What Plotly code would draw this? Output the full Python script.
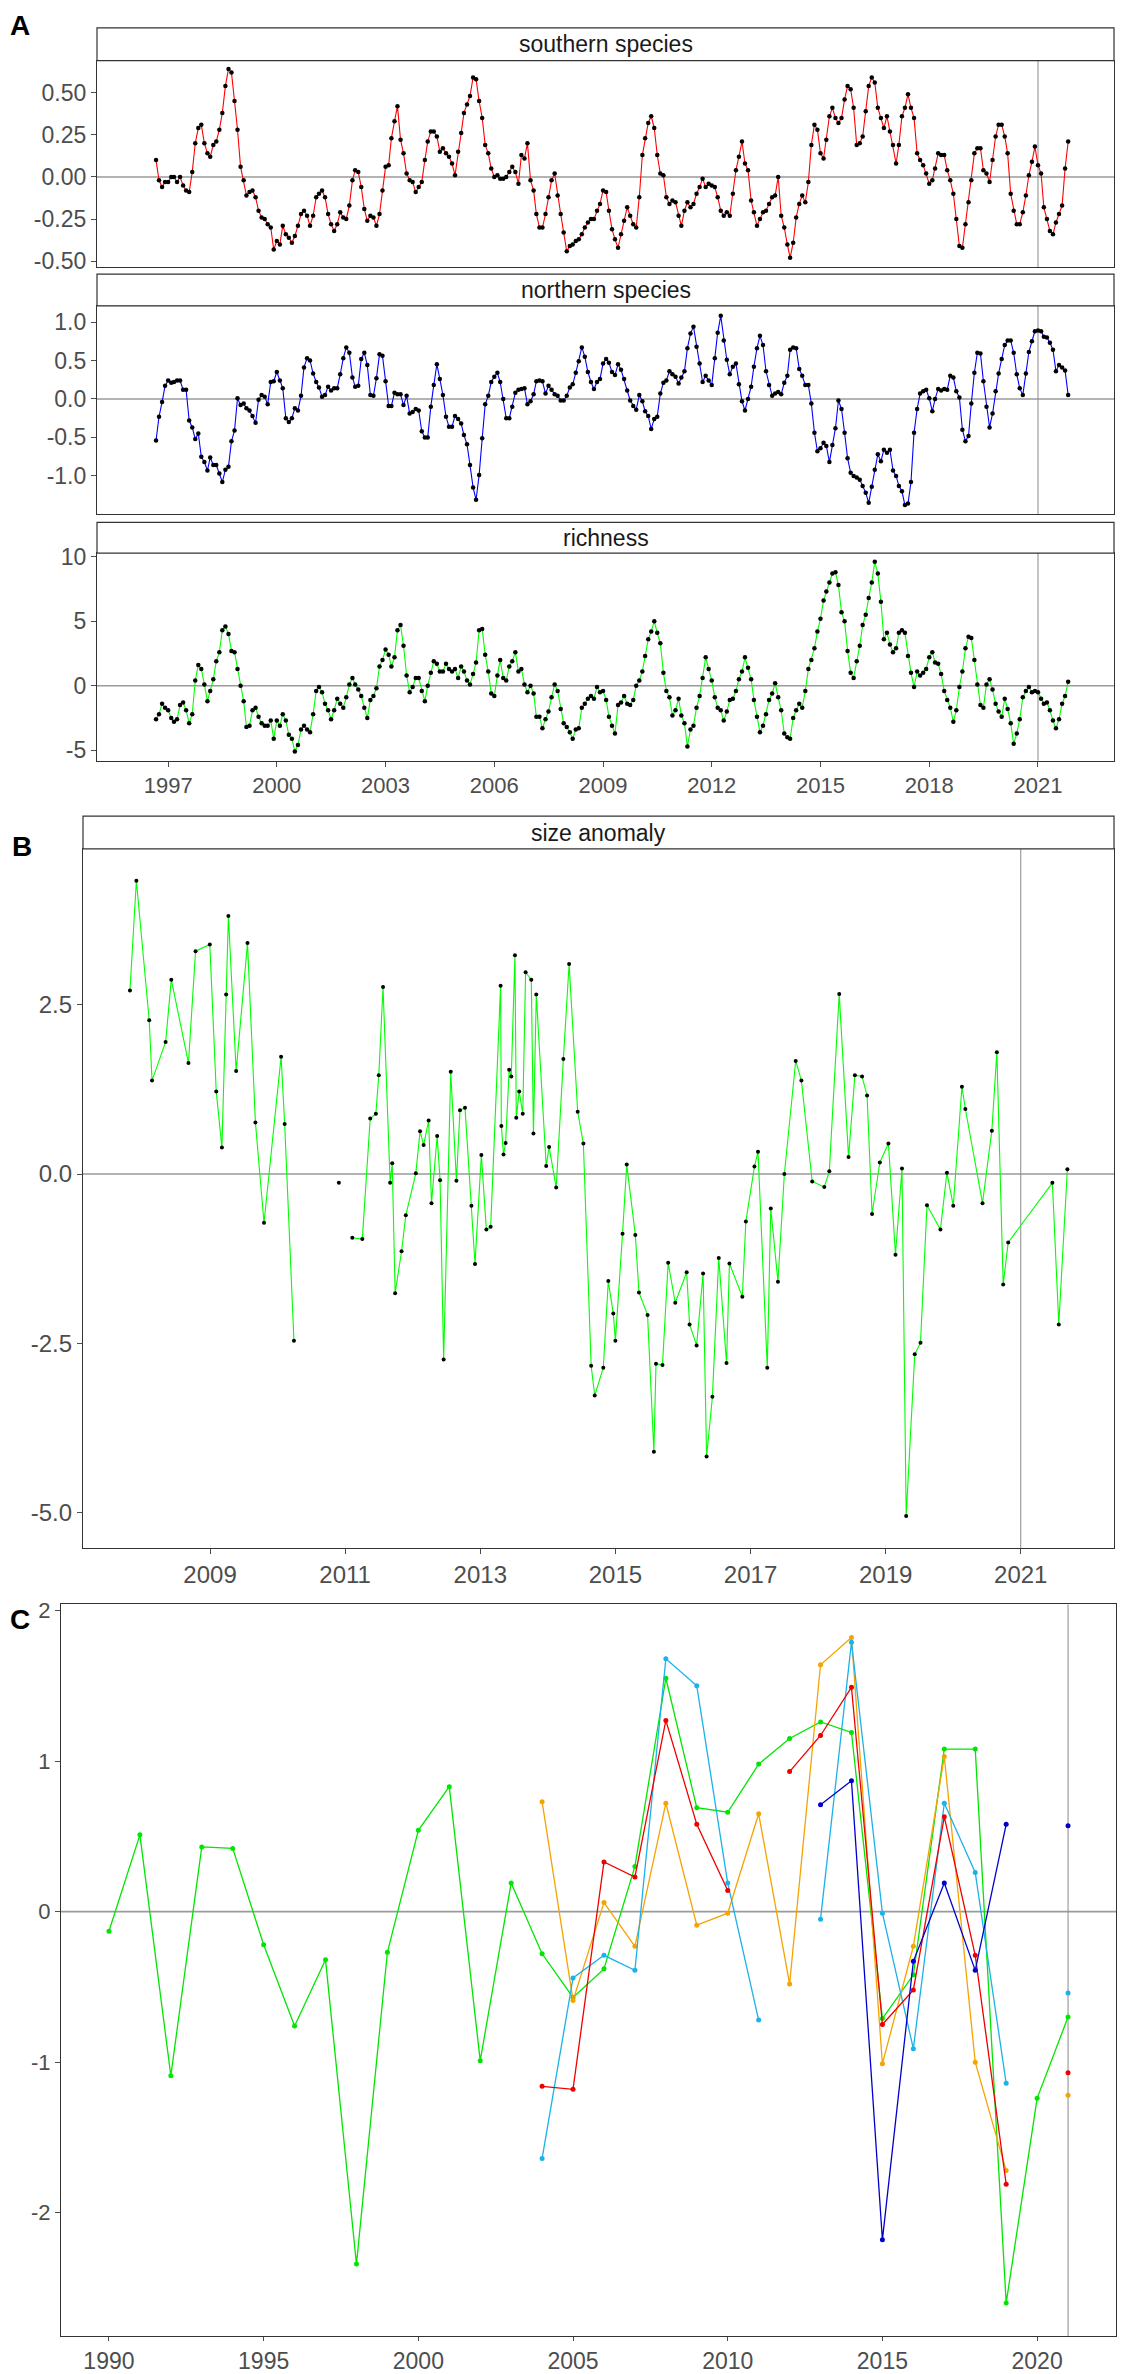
import numpy as np
import pandas as pd
import plotly.graph_objects as go

W, H = 1121, 2374

# ---------------- panel A: monthly series, Sep 1996 .. Nov 2021
month_start = "1996-09-01"
southern = [
    0.10, -0.02, -0.06, -0.03,
    -0.03, 0.00, 0.00, -0.03, 0.00, -0.05, -0.08, -0.09, 0.03, 0.20, 0.29, 0.31,
    0.20, 0.14, 0.12, 0.19, 0.21, 0.28, 0.38, 0.54, 0.64, 0.62, 0.45, 0.28,
    0.06, -0.02, -0.11, -0.09, -0.08, -0.12, -0.20, -0.24, -0.25, -0.28, -0.30, -0.43,
    -0.38, -0.40, -0.29, -0.34, -0.36, -0.39, -0.35, -0.29, -0.22, -0.20, -0.23, -0.29,
    -0.23, -0.12, -0.10, -0.08, -0.12, -0.22, -0.28, -0.32, -0.28, -0.21, -0.24, -0.25,
    -0.17, -0.02, 0.04, 0.03, -0.06, -0.19, -0.26, -0.23, -0.24, -0.29, -0.22, -0.08,
    0.06, 0.07, 0.23, 0.33, 0.42, 0.22, 0.14, 0.02, -0.02, -0.03, -0.09, -0.06,
    -0.03, 0.10, 0.21, 0.27, 0.27, 0.24, 0.15, 0.17, 0.14, 0.12, 0.08, 0.01,
    0.15, 0.26, 0.38, 0.43, 0.48, 0.59, 0.58, 0.45, 0.35, 0.19, 0.14, 0.05,
    0.00, 0.01, -0.01, -0.01, 0.00, 0.03, 0.06, 0.03, -0.04, 0.13, 0.11, 0.20,
    -0.02, -0.08, -0.22, -0.30, -0.30, -0.22, -0.12, -0.02, 0.02, -0.11, -0.22, -0.33,
    -0.44, -0.41, -0.40, -0.38, -0.37, -0.34, -0.30, -0.27, -0.25, -0.25, -0.20, -0.16,
    -0.08, -0.09, -0.20, -0.31, -0.37, -0.42, -0.34, -0.26, -0.18, -0.23, -0.28, -0.30,
    -0.12, 0.13, 0.23, 0.32, 0.36, 0.29, 0.13, 0.02, 0.01, -0.12, -0.16, -0.14,
    -0.15, -0.23, -0.29, -0.20, -0.15, -0.18, -0.16, -0.10, -0.06, -0.01, -0.06, -0.04,
    -0.05, -0.06, -0.12, -0.20, -0.23, -0.21, -0.23, -0.10, 0.04, 0.12, 0.21, 0.08,
    0.04, -0.14, -0.21, -0.29, -0.25, -0.21, -0.20, -0.16, -0.12, -0.11, 0.00, -0.23,
    -0.30, -0.40, -0.48, -0.39, -0.24, -0.16, -0.11, -0.15, -0.03, 0.19, 0.31, 0.28,
    0.14, 0.11, 0.22, 0.36, 0.41, 0.35, 0.32, 0.35, 0.46, 0.54, 0.52, 0.41,
    0.19, 0.20, 0.24, 0.39, 0.54, 0.59, 0.56, 0.41, 0.35, 0.29, 0.36, 0.27,
    0.19, 0.08, 0.19, 0.36, 0.41, 0.49, 0.41, 0.35, 0.14, 0.10, 0.07, 0.02,
    -0.04, -0.02, 0.05, 0.14, 0.13, 0.13, 0.04, -0.02, -0.10, -0.25, -0.41, -0.42,
    -0.28, -0.15, -0.02, 0.14, 0.17, 0.17, 0.04, 0.02, -0.03, 0.10, 0.24, 0.31,
    0.31, 0.24, 0.14, -0.10, -0.20, -0.28, -0.28, -0.21, -0.11, 0.01, 0.09, 0.18,
    0.07, 0.02, -0.18, -0.25, -0.32, -0.34, -0.27, -0.22, -0.17, 0.05, 0.21,
]
northern = [
    -0.54, -0.23, -0.04, 0.17,
    0.24, 0.21, 0.22, 0.24, 0.24, 0.12, 0.12, -0.28, -0.37, -0.52, -0.45, -0.75,
    -0.82, -0.93, -0.76, -0.86, -0.86, -0.97, -1.08, -0.92, -0.88, -0.55, -0.41, 0.01,
    -0.08, -0.06, -0.12, -0.15, -0.22, -0.31, -0.01, 0.05, 0.03, -0.07, 0.22, 0.23,
    0.35, 0.24, 0.14, -0.25, -0.30, -0.25, -0.12, -0.15, 0.04, 0.41, 0.53, 0.50,
    0.33, 0.22, 0.15, 0.03, 0.05, 0.16, 0.11, 0.14, 0.14, 0.32, 0.53, 0.67,
    0.60, 0.28, 0.16, 0.17, 0.52, 0.60, 0.44, 0.05, 0.04, 0.27, 0.58, 0.56,
    0.23, -0.09, -0.09, 0.08, 0.06, 0.06, -0.08, 0.04, -0.19, -0.17, -0.13, -0.15,
    -0.42, -0.50, -0.50, -0.10, 0.18, 0.45, 0.26, 0.05, -0.23, -0.36, -0.36, -0.22,
    -0.26, -0.32, -0.47, -0.59, -0.86, -1.15, -1.31, -0.99, -0.51, -0.07, 0.04, 0.22,
    0.29, 0.34, 0.22, 0.00, -0.25, -0.25, -0.10, 0.08, 0.12, 0.13, 0.14, -0.07,
    -0.03, 0.06, 0.23, 0.24, 0.23, 0.07, 0.17, 0.12, 0.06, 0.04, -0.02, -0.02,
    0.04, 0.15, 0.19, 0.34, 0.49, 0.67, 0.55, 0.35, 0.22, 0.13, 0.22, 0.26,
    0.46, 0.52, 0.47, 0.35, 0.31, 0.45, 0.38, 0.26, 0.11, -0.02, -0.09, -0.14,
    0.05, -0.03, -0.16, -0.22, -0.39, -0.26, -0.23, 0.07, 0.21, 0.24, 0.36, 0.32,
    0.29, 0.20, 0.28, 0.36, 0.66, 0.85, 0.94, 0.68, 0.46, 0.22, 0.30, 0.24,
    0.18, 0.53, 0.86, 1.08, 0.76, 0.51, 0.32, 0.42, 0.46, 0.19, -0.03, -0.15,
    0.00, 0.16, 0.42, 0.66, 0.82, 0.70, 0.36, 0.18, 0.04, 0.07, 0.09, 0.06,
    0.21, 0.30, 0.64, 0.67, 0.66, 0.39, 0.30, 0.18, 0.18, -0.06, -0.44, -0.68,
    -0.64, -0.57, -0.61, -0.82, -0.60, -0.38, -0.02, -0.13, -0.44, -0.77, -0.96, -1.00,
    -1.02, -1.05, -1.13, -1.22, -1.35, -1.14, -0.92, -0.72, -0.81, -0.66, -0.70, -0.66,
    -0.93, -1.00, -1.13, -1.20, -1.38, -1.36, -1.08, -0.44, -0.13, 0.07, 0.10, 0.12,
    0.01, -0.16, 0.00, 0.13, 0.11, 0.13, 0.12, 0.30, 0.28, 0.10, 0.02, -0.40,
    -0.55, -0.48, -0.06, 0.34, 0.60, 0.59, 0.23, -0.10, -0.37, -0.19, 0.10, 0.33,
    0.52, 0.70, 0.76, 0.76, 0.60, 0.32, 0.14, 0.05, 0.33, 0.61, 0.75, 0.88,
    0.89, 0.88, 0.81, 0.80, 0.73, 0.64, 0.36, 0.44, 0.41, 0.37, 0.05,
]
richness = [
    -2.6, -2.2, -1.4, -1.7,
    -1.9, -2.5, -2.8, -2.6, -1.5, -1.3, -1.9, -2.9, -2.2, 0.4, 1.6, 1.3,
    0.1, -1.2, -0.4, 0.5, 1.9, 2.6, 4.3, 4.6, 4.0, 2.7, 2.6, 1.3,
    0.0, -1.2, -3.2, -3.1, -1.9, -1.7, -2.4, -2.9, -3.1, -3.1, -2.7, -4.1,
    -2.7, -3.1, -2.2, -2.7, -3.8, -4.1, -5.1, -4.6, -3.4, -3.1, -3.4, -3.6,
    -2.2, -0.4, -0.1, -0.5, -1.4, -1.9, -2.6, -1.9, -1.0, -1.4, -1.7, -0.9,
    0.1, 0.6, 0.1, -0.3, -0.8, -1.7, -2.5, -1.1, -0.8, -0.2, 1.5, 2.0,
    2.8, 2.4, 1.5, 2.2, 4.3, 4.7, 3.1, 0.8, -0.5, -0.1, 0.6, 0.6,
    -0.4, -1.2, 0.0, 1.0, 1.9, 1.7, 1.1, 1.1, 1.7, 1.3, 1.1, 1.3,
    0.6, 1.5, 1.1, 0.4, 0.1, 0.9, 1.8, 4.3, 4.4, 2.4, 1.1, -0.6,
    -0.8, 0.8, 2.0, 0.6, 0.4, 1.5, 1.9, 2.6, 1.1, 1.3, 0.1, -0.5,
    0.0, -0.6, -2.4, -2.4, -3.3, -2.6, -2.0, -0.9, 0.1, -0.4, -1.8, -2.9,
    -3.2, -3.6, -4.1, -3.4, -3.3, -1.7, -1.4, -1.0, -0.8, -1.0, -0.1, -0.5,
    -0.4, -1.1, -2.4, -3.1, -3.7, -1.5, -1.3, -0.8, -1.4, -1.5, -1.1, 0.0,
    0.4, 1.1, 2.3, 3.6, 4.2, 5.0, 4.1, 3.3, 1.0, -0.4, -0.9, -2.3,
    -1.9, -1.0, -2.3, -2.9, -4.7, -3.4, -3.1, -1.7, -0.8, 0.6, 2.2, 1.3,
    0.4, -0.9, -1.7, -1.9, -2.7, -2.0, -1.1, -1.0, -0.4, 0.5, 1.1, 2.2,
    1.4, 0.5, -1.1, -2.4, -3.6, -3.1, -2.2, -1.1, -0.6, 0.2, -0.9, -1.9,
    -3.7, -4.0, -4.1, -2.5, -1.9, -1.4, -1.7, -0.4, 1.3, 2.0, 2.9, 4.2,
    5.2, 6.6, 7.3, 8.0, 8.7, 8.8, 7.8, 5.7, 5.0, 2.7, 1.0, 0.6,
    1.9, 3.1, 4.7, 5.5, 6.8, 8.0, 9.6, 8.7, 6.5, 3.6, 4.1, 3.2,
    2.6, 2.9, 4.1, 4.3, 4.1, 2.3, 1.0, -0.1, 1.1, 0.8, 1.0, 1.3,
    2.2, 2.6, 1.8, 1.7, 0.9, -0.4, -1.1, -1.7, -2.8, -1.9, -0.1, 1.1,
    2.9, 3.8, 3.7, 2.0, 0.1, -1.5, -1.7, 0.1, 0.5, -0.3, -1.4, -2.0,
    -2.4, -1.0, -1.8, -2.9, -4.5, -3.7, -2.6, -0.9, -0.4, -0.1, -0.5, -0.4,
    -0.5, -1.0, -1.4, -1.3, -1.9, -2.7, -3.3, -2.6, -1.4, -0.8, 0.3,
]
months = pd.date_range(month_start, periods=len(southern), freq="MS")

# ---------------- panel B: size anomaly (decimal year), None = break in line
size_year = [
    2007.815, 2007.910, 2008.100, 2008.142, 2008.343, 2008.427, 2008.681, 2008.786,
    2008.997, 2009.092, 2009.176, 2009.239, 2009.272, 2009.387, 2009.555, 2009.672,
    2009.799, 2010.052, 2010.105, 2010.242, None, 2010.907, None,
    2011.106, 2011.254, 2011.371, 2011.455, 2011.498, 2011.561, 2011.666, 2011.697,
    2011.740, 2011.835, 2011.898, 2012.046, 2012.109, 2012.162, 2012.236, 2012.278,
    2012.362, 2012.405, 2012.458, 2012.563, 2012.647, 2012.700, 2012.774, 2012.869,
    2012.922, 2013.016, 2013.090, 2013.154, 2013.301, 2013.312, 2013.344, 2013.375,
    2013.428, 2013.459, 2013.513, 2013.533, 2013.576, 2013.629, 2013.671, 2013.755,
    2013.787, 2013.829, 2013.976, 2014.019, 2014.124, 2014.230, 2014.315, 2014.442,
    2014.526, 2014.641, 2014.694, 2014.821, 2014.895, 2014.969, 2015.000, 2015.106,
    2015.168, 2015.295, 2015.349, 2015.476, 2015.570, 2015.601, 2015.697, 2015.781,
    2015.886, 2016.055, 2016.098, 2016.202, 2016.298, 2016.350, 2016.436, 2016.530,
    2016.645, 2016.688, 2016.879, 2016.931, 2017.058, 2017.111, 2017.248, 2017.300,
    2017.406, 2017.501, 2017.669, 2017.753, 2017.913, 2018.092, 2018.166, 2018.313,
    2018.451, 2018.545, 2018.651, 2018.725, 2018.799, 2018.914, 2019.041, 2019.146,
    2019.242, 2019.304, 2019.431, 2019.516, 2019.612, 2019.811, 2019.907, 2020.001,
    2020.129, 2020.180, 2020.434, 2020.572, 2020.646, 2020.740, 2020.814, 2021.468,
    2021.563, 2021.690,
]
size_anom = [
    2.71, 4.33, 2.27, 1.38, 1.95, 2.87, 1.64, 3.29,
    3.39, 1.22, 0.39, 2.65, 3.81, 1.52, 3.41, 0.76,
    -0.72, 1.73, 0.74, -2.46, None, -0.13, None,
    -0.94, -0.96, 0.82, 0.89, 1.46, 2.76, -0.13, 0.16,
    -1.76, -1.14, -0.61, 0.01, 0.63, 0.43, 0.79, -0.43,
    0.56, -0.09, -2.74, 1.51, -0.10, 0.94, 0.98, -0.47,
    -1.33, 0.28, -0.82, -0.78, 2.78, 0.71, 0.29, 0.46,
    1.54, 1.44, 3.23, 0.83, 1.22, 0.89, 2.98, 2.87,
    0.60, 2.65, 0.12, 0.40, -0.20, 1.70, 3.10, 0.92,
    0.45, -2.83, -3.27, -2.86, -1.58, -2.06, -2.46, -0.88,
    0.14, -0.90, -1.75, -2.08, -4.10, -2.80, -2.82, -1.31,
    -1.90, -1.45, -2.22, -2.53, -1.47, -4.17, -3.29, -1.24,
    -2.79, -1.32, -1.81, -0.70, 0.11, 0.33, -2.86, -0.51,
    -1.59, 0.00, 1.67, 1.38, -0.11, -0.19, 0.04, 2.66,
    0.25, 1.46, 1.44, 1.16, -0.59, 0.17, 0.45, -1.19,
    0.08, -5.05, -2.66, -2.49, -0.46, -0.82, 0.02, -0.47,
    1.29, 0.96, -0.43, 0.64, 1.80, -1.63, -1.01, -0.13,
    -2.22, 0.07,
]

# ---------------- panel C: yearly anomalies, five series
c_years = list(range(1990, 2022))
c_green = [-0.13, 0.51, -1.09, 0.43, 0.42, -0.22, -0.76, -0.32, -2.34, -0.27,
           0.54, 0.83, -0.99, 0.19, -0.28, -0.57, -0.38, 0.30, 1.55, 0.69,
           0.66, 0.98, 1.15, 1.26, 1.19, -0.71, -0.42, 1.08, 1.08, -2.60,
           -1.24, -0.70]
c_orange = [None] * 14 + [0.73, -0.59, 0.06, -0.23, 0.72, -0.09, -0.01, 0.65,
                          -0.48, 1.64, 1.82, -1.01, -0.23, 1.03, -1.00, -1.72,
                          None, -1.22]
c_cyan = [None] * 14 + [-1.64, -0.44, -0.29, -0.39, 1.68, 1.50, 0.19, -0.72,
                        None, -0.05, 1.79, -0.01, -0.91, 0.72, 0.26, -1.14,
                        None, -0.54]
c_red = [None] * 14 + [-1.16, -1.18, 0.33, 0.23, 1.27, 0.58, 0.14, None,
                       0.93, 1.17, 1.49, -0.75, -0.52, 0.63, -0.29, -1.81,
                       None, -1.07]
c_blue = [None] * 23 + [0.71, 0.87, -2.18, -0.33, 0.19, -0.39, 0.58, None, 0.57]


def px(x):
    return x / W


def py(y):
    return 1 - y / H


FONT = "Liberation Sans, Arial, sans-serif"
TICKC = "#4d4d4d"
BORDER = "#333333"

fig = go.Figure()

# panel boxes in pixels: (left, right, top, bottom)
boxes = {
    1: (97, 1114, 52, 260),
    2: (97, 1114, 299, 509),
    3: (97, 1114, 548, 757),
    4: (83, 1114, 846, 1550),
    5: (61, 1116, 1607, 2344),
}
strips = [
    (1, 19, "southern species"),
    (2, 267, "northern species"),
    (3, 517, "richness"),
    (4, 813, "size anomaly"),
]

a_range = ["1995-01-15", "2023-02-06"]
y_setup = {
    1: dict(range=[-0.535, 0.69], tickvals=[-0.5, -0.25, 0, 0.25, 0.5],
            ticktext=["-0.50", "-0.25", "0.00", "0.25", "0.50"]),
    2: dict(range=[-1.50, 1.21], tickvals=[-1, -0.5, 0, 0.5, 1],
            ticktext=["-1.0", "-0.5", "0.0", "0.5", "1.0"]),
    3: dict(range=[-5.8, 10.28], tickvals=[-5, 0, 5, 10],
            ticktext=["-5", "0", "5", "10"]),
    4: dict(range=[-5.52, 4.80], tickvals=[-5, -2.5, 0, 2.5],
            ticktext=["-5.0", "-2.5", "0.0", "2.5"]),
    5: dict(range=[-2.82, 2.04], tickvals=[-2, -1, 0, 1, 2],
            ticktext=["-2", "-1", "0", "1", "2"]),
}
y_font = {1: 23, 2: 23, 3: 23, 4: 24, 5: 22}
x_setup = {
    1: dict(type="date", range=a_range, showticklabels=False, ticks=""),
    2: dict(type="date", range=a_range, showticklabels=False, ticks=""),
    3: dict(type="date", range=a_range,
            tickvals=[f"{y}-01-01" for y in range(1997, 2022, 3)],
            ticktext=[str(y) for y in range(1997, 2022, 3)],
            tickfont=dict(family=FONT, size=22, color=TICKC)),
    4: dict(range=[2007.12, 2022.38], tickvals=list(range(2009, 2022, 2)),
            ticktext=[str(y) for y in range(2009, 2022, 2)],
            tickfont=dict(family=FONT, size=24, color=TICKC)),
    5: dict(range=[1988.45, 2022.55], tickvals=list(range(1990, 2021, 5)),
            ticktext=[str(y) for y in range(1990, 2021, 5)], ticklen=4,
            tickfont=dict(family=FONT, size=23, color=TICKC)),
}
vline_x = {1: "2021-01-01", 2: "2021-01-01", 3: "2021-01-01", 4: 2021, 5: 2021}

layout = {}
shapes = []
for i, (l, r, t, b) in boxes.items():
    sx = "" if i == 1 else str(i)
    common = dict(showline=True, mirror=True, linecolor=BORDER, linewidth=1.2,
                  showgrid=False, zeroline=False, ticks="outside", ticklen=5,
                  tickcolor=TICKC, tickwidth=1)
    xa = dict(common)
    xa.update(domain=[px(l), px(r)], anchor="y" + sx)
    xa.update(x_setup[i])
    ya = dict(common)
    ya.update(domain=[py(b), py(t)], anchor="x" + sx,
              tickfont=dict(family=FONT, size=y_font[i], color=TICKC))
    ya.update(y_setup[i])
    layout["xaxis" + sx] = xa
    layout["yaxis" + sx] = ya
    # zero line and 2021 marker
    shapes.append(dict(type="line", xref=f"x{sx} domain", yref="y" + sx,
                       x0=0, x1=1, y0=0, y1=0, layer="below",
                       line=dict(color="#9a9a9a", width=1.6)))
    shapes.append(dict(type="line", xref="x" + sx, yref=f"y{sx} domain",
                       x0=vline_x[i], x1=vline_x[i], y0=0, y1=1, layer="below",
                       line=dict(color="#8a8a8a", width=1)))

annotations = []
for i, top, label in strips:
    l, r, t, b = boxes[i]
    shapes.append(dict(type="rect", xref="paper", yref="paper",
                       x0=px(l), x1=px(r), y0=py(t), y1=py(top),
                       fillcolor="white", line=dict(color=BORDER, width=1.2)))
    annotations.append(dict(text=label, xref="paper", yref="paper",
                            x=px((l + r) / 2), y=py((top + t) / 2),
                            showarrow=False, xanchor="center", yanchor="middle",
                            font=dict(family=FONT, size=23, color="#1a1a1a")))

for letter, (lx, ly) in {"A": (20, 17), "B": (22, 844), "C": (20, 1622)}.items():
    annotations.append(dict(text=f"<b>{letter}</b>", xref="paper", yref="paper",
                            x=px(lx), y=py(ly), showarrow=False,
                            xanchor="center", yanchor="middle",
                            font=dict(family=FONT, size=28, color="black")))

# ---------------- traces
for i, (vals, col) in enumerate([(southern, "#ff0000"), (northern, "#0000ff"),
                                 (richness, "#00ff00")], start=1):
    sx = "" if i == 1 else str(i)
    fig.add_trace(go.Scatter(x=months, y=vals, mode="lines+markers",
                             line=dict(color=col, width=1.1),
                             marker=dict(color="black", size=4.5),
                             xaxis="x" + sx, yaxis="y" + sx, showlegend=False))

fig.add_trace(go.Scatter(x=size_year, y=size_anom, mode="lines+markers",
                         line=dict(color="#00ff00", width=1.1),
                         marker=dict(color="black", size=4),
                         xaxis="x4", yaxis="y4", showlegend=False))

for vals, col in [(c_green, "#00e600"), (c_orange, "#f5a300"),
                  (c_cyan, "#1ab2e8"), (c_red, "#ee0000"), (c_blue, "#0000cd")]:
    fig.add_trace(go.Scatter(x=c_years, y=vals, mode="lines+markers",
                             line=dict(color=col, width=1.3),
                             marker=dict(color=col, size=5),
                             xaxis="x5", yaxis="y5", showlegend=False))

fig.update_layout(width=W, height=H, autosize=False,
                  margin=dict(l=0, r=0, t=0, b=0),
                  paper_bgcolor="white", plot_bgcolor="white",
                  shapes=shapes, annotations=annotations, **layout)

# the page's default body margin would push the bottom labels off the window
fig.write_html("out.html", config={"displayModeBar": False},
               post_script="document.body.style.margin='0';")
